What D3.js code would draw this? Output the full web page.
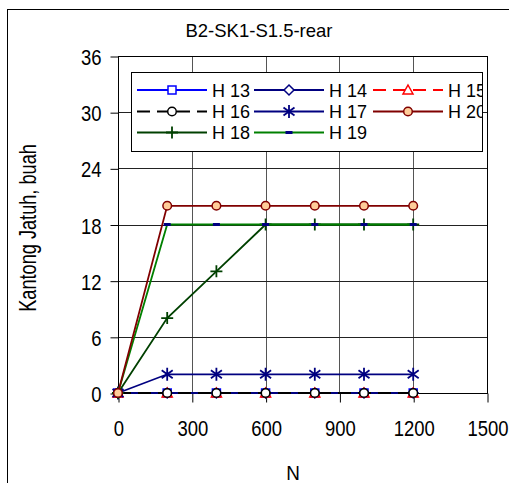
<!DOCTYPE html>
<head>
    <style>
        * { padding: 0; margin: 0; }
        body { background: #fff; }
        text { font-family: Arial, "Liberation Sans", sans-serif; fill: #000; }
    </style>
    <script src="https://cdn.jsdelivr.net/npm/d3@7"></script>
</head>

<body>
    <script>

        /////////////////////////////////////////////////////
        // DATA
        /////////////////////////////////////////////////////

        const N = [0, 200, 400, 600, 800, 1000, 1200]
        const H13 = [0, 0, 0, 0, 0, 0, 0]
        const H14 = [0, 0, 0, 0, 0, 0, 0]
        const H15 = [0, 0, 0, 0, 0, 0, 0]
        const H16 = [0, 0, 0, 0, 0, 0, 0]
        const H17 = [0, 2, 2, 2, 2, 2, 2]
        const H18 = [0, 8, 13, 18, 18, 18, 18]
        const H19 = [0, 18, 18, 18, 18, 18, 18]
        const H20 = [0, 20, 20, 20, 20, 20, 20]

        const xTicks = [0, 300, 600, 900, 1200, 1500]
        const yTicks = [0, 6, 12, 18, 24, 30, 36]

        const chartTitle = "B2-SK1-S1.5-rear"
        const xTitle = "N"
        const yTitle = "Kantong Jatuh, buah"

        //series styles, in drawing order
        const series = [
            { name: "H 13", values: H13, color: "#0000ff", dash: null, marker: "square", fill: "#fff", col: 0, row: 0 },
            { name: "H 14", values: H14, color: "#000080", dash: null, marker: "diamond", fill: "#fff", col: 1, row: 0 },
            { name: "H 15", values: H15, color: "#ff0000", dash: "13,7", marker: "triangle", fill: "#fff", col: 2, row: 0 },
            { name: "H 16", values: H16, color: "#000000", dash: "13,7", marker: "circle", fill: "#fff", col: 0, row: 1 },
            { name: "H 17", values: H17, color: "#000080", dash: null, marker: "star", fill: "none", col: 1, row: 1 },
            { name: "H 18", values: H18, color: "#004000", dash: null, marker: "plus", fill: "none", col: 0, row: 2 },
            { name: "H 19", values: H19, color: "#008000", dash: null, marker: "dash", fill: "#000080", col: 1, row: 2 },
            { name: "H 20", values: H20, color: "#800000", dash: null, marker: "circle", fill: "#ffcc99", col: 2, row: 1 },
        ]

        /////////////////////////////////////////////////////
        // SETUP SVG
        /////////////////////////////////////////////////////

        const width = 509
        const height = 483
        const squish = 0.84

        const svg = d3.select("body").append("svg")
            .attr("width", width)
            .attr("height", height)

        //outer frame
        svg.append("rect")
            .attr("x", 7.5).attr("y", 9.5)
            .attr("width", 520).attr("height", 500)
            .attr("fill", "none").attr("stroke", "#000")

        const x = d3.scaleLinear().domain([0, 1500]).range([118, 487])
        const y = d3.scaleLinear().domain([0, 36]).range([393, 56])

        /////////////////////////////////////////////////////
        // GRID + AXES
        /////////////////////////////////////////////////////

        const grid = svg.append("g").attr("shape-rendering", "crispEdges")
        grid.selectAll(".gx").data(xTicks.slice(1, -1)).join("line")
            .attr("x1", d => Math.round(x(d)) + 0.5).attr("x2", d => Math.round(x(d)) + 0.5)
            .attr("y1", y(36)).attr("y2", y(0))
            .attr("stroke", "#555")
        grid.selectAll(".gy").data(yTicks.slice(1, -1)).join("line")
            .attr("x1", x(0)).attr("x2", x(1500))
            .attr("y1", d => Math.round(y(d)) + 0.5).attr("y2", d => Math.round(y(d)) + 0.5)
            .attr("stroke", "#222")

        //plot frame
        svg.append("rect")
            .attr("x", x(0) + 0.5).attr("y", y(36) + 0.5)
            .attr("width", x(1500) - x(0)).attr("height", y(0) - y(36))
            .attr("fill", "none").attr("stroke", "#000")
            .attr("shape-rendering", "crispEdges")

        const yAxis = svg.append("g")
            .attr("transform", `translate(${x(0) + 0.5},0.5)`)
            .call(d3.axisLeft(y).tickValues(yTicks).tickFormat(d3.format("d")).tickSize(8).tickSizeOuter(0))
        yAxis.select(".domain").remove()
        yAxis.selectAll("text")
            .attr("x", null).attr("dy", null)
            .attr("transform", `translate(-17,8) scale(${squish},1)`)
            .attr("font-size", 22).attr("font-family", null)

        const xAxis = svg.append("g")
            .attr("transform", `translate(0.5,${y(0) + 0.5})`)
            .call(d3.axisBottom(x).tickValues(xTicks).tickFormat(d3.format("d")).tickSize(9).tickSizeOuter(0))
        xAxis.select(".domain").remove()
        xAxis.selectAll("text")
            .attr("y", null).attr("dy", null)
            .attr("transform", `translate(0,42) scale(${squish},1)`)
            .attr("font-size", 22).attr("font-family", null)
        svg.selectAll(".tick line").attr("stroke", "#000")

        /////////////////////////////////////////////////////
        // TITLES
        /////////////////////////////////////////////////////

        svg.append("text")
            .attr("x", 259).attr("y", 37)
            .attr("text-anchor", "middle")
            .attr("font-size", 18.5)
            .text(chartTitle)

        svg.append("text")
            .attr("transform", `translate(293,480) scale(0.9,1)`)
            .attr("text-anchor", "middle")
            .attr("font-size", 21)
            .text(xTitle)

        svg.append("text")
            .attr("transform", `translate(36,228) rotate(-90) scale(0.79,1)`)
            .attr("text-anchor", "middle")
            .attr("font-size", 23)
            .text(yTitle)

        /////////////////////////////////////////////////////
        // MARKERS
        /////////////////////////////////////////////////////

        function drawMarker(g, s, cx, cy) {
            const m = g.append("g").attr("transform", `translate(${cx},${cy})`)
            const st = { stroke: s.color, "stroke-width": 1.5, fill: s.fill }
            const apply = sel => { for (const k in st) sel.attr(k, st[k]); return sel }
            if (s.marker === "square") {
                apply(m.append("rect").attr("x", -4).attr("y", -4).attr("width", 8).attr("height", 8))
            } else if (s.marker === "diamond") {
                apply(m.append("path").attr("d", "M0,-5L5,0L0,5L-5,0Z"))
            } else if (s.marker === "triangle") {
                apply(m.append("path").attr("d", "M0,-5L5,4L-5,4Z"))
            } else if (s.marker === "circle") {
                apply(m.append("circle").attr("r", 4.3))
            } else if (s.marker === "star") {
                m.append("path")
                    .attr("d", "M0,-6.5L0,6.5M-5.5,-4L5.5,4M-5.5,4L5.5,-4")
                    .attr("stroke", s.color).attr("stroke-width", 1.8)
            } else if (s.marker === "plus") {
                m.append("path").attr("d", "M0,-6L0,6M-6,0L6,0")
                    .attr("stroke", s.color).attr("stroke-width", 1.8)
            } else if (s.marker === "dash") {
                m.append("rect").attr("x", -3.5).attr("y", -1.5).attr("width", 7).attr("height", 3)
                    .attr("fill", s.fill)
            }
        }

        /////////////////////////////////////////////////////
        // SERIES
        /////////////////////////////////////////////////////

        const line = d3.line()
            .x(d => x(d[0]))
            .y(d => y(d[1]))

        const plot = svg.append("g")
        series.forEach(s => {
            const pts = N.map((n, i) => [n, s.values[i]])
            plot.append("path")
                .attr("d", line(pts))
                .attr("fill", "none")
                .attr("stroke", s.color)
                .attr("stroke-width", 1.8)
                .attr("stroke-dasharray", s.dash)
            pts.forEach(p => drawMarker(plot, s, x(p[0]), y(p[1])))
        })

        /////////////////////////////////////////////////////
        // LEGEND
        /////////////////////////////////////////////////////

        const lg = { x: 131, y: 72, w: 351, h: 79 }
        const colX = [137, 254, 373]
        const rowY = [90, 111.5, 132.5]

        svg.append("clipPath").attr("id", "legclip")
            .append("rect").attr("x", lg.x).attr("y", lg.y).attr("width", lg.w).attr("height", lg.h)

        svg.append("rect")
            .attr("x", lg.x + 0.5).attr("y", lg.y + 0.5)
            .attr("width", lg.w).attr("height", lg.h)
            .attr("fill", "#fff").attr("stroke", "#000")

        const legend = svg.append("g").attr("clip-path", "url(#legclip)")
        series.forEach(s => {
            const lx = colX[s.col]
            const ly = rowY[s.row]
            legend.append("line")
                .attr("x1", lx).attr("x2", lx + 70)
                .attr("y1", ly).attr("y2", ly)
                .attr("stroke", s.color).attr("stroke-width", 1.8)
                .attr("stroke-dasharray", s.dash)
            drawMarker(legend, s, lx + 35, ly)
            legend.append("text")
                .attr("x", lx + 75).attr("y", ly + 6.5)
                .attr("font-size", 18)
                .text(s.name)
        })

    </script>
</body>
